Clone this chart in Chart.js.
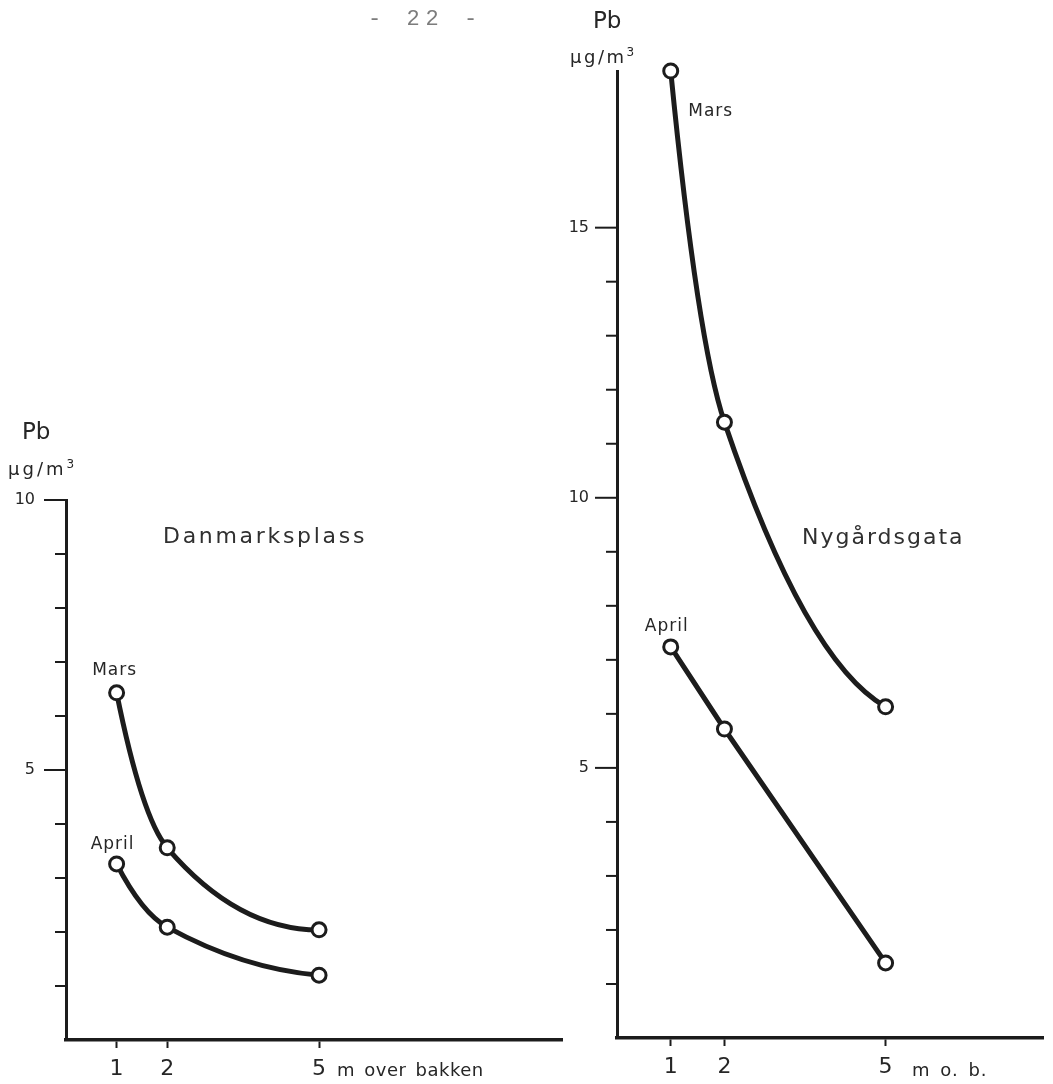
<!DOCTYPE html>
<html>
<head>
<meta charset="utf-8">
<script src="https://cdn.jsdelivr.net/npm/chart.js@4.4.1/dist/chart.umd.min.js"></script>
<style>
html,body{margin:0;padding:0;background:#fff;}
#wrap{position:relative;width:1053px;height:1084px;overflow:hidden;background:#fff;}
canvas{position:absolute;left:0;top:0;}
.t{position:absolute;font-family:"DejaVu Sans",sans-serif;color:#262626;white-space:nowrap;line-height:1;}
</style>
</head>
<body>
<div id="wrap">
<canvas id="c1" width="1053" height="1084"></canvas>
<canvas id="c2" width="1053" height="1084"></canvas>
<div class="t" style="left:368px;top:9px;font-family:'Liberation Mono',monospace;font-size:22px;letter-spacing:6px;color:#7c7c7c;">- 22 -</div>
<div class="t" style="left:22px;top:420px;font-size:23px;">Pb</div>
<div class="t" style="left:8px;top:458px;font-size:18px;letter-spacing:3px;">µg/m<sup style="font-size:12px;vertical-align:7px;">3</sup></div>
<div class="t" style="left:593px;top:9px;font-size:23px;">Pb</div>
<div class="t" style="left:570px;top:46px;font-size:18px;letter-spacing:2.5px;">µg/m<sup style="font-size:12px;vertical-align:7px;">3</sup></div>
<div class="t" style="left:163px;top:525px;font-size:22px;letter-spacing:2.7px;color:#303030;">Danmarksplass</div>
<div class="t" style="left:802px;top:526px;font-size:22px;letter-spacing:2px;color:#303030;">Nygårdsgata</div>
<div class="t" style="left:337px;top:1061px;font-size:18px;letter-spacing:0.5px;word-spacing:3px;">m over bakken</div>
<div class="t" style="left:912px;top:1061px;font-size:18px;letter-spacing:1px;word-spacing:3px;">m o. b.</div>
</div>
<script>
// ---- data ----
const heights = [1, 2, 5];
const danMars = [6.43, 3.56, 2.04];
const danApril = [3.26, 2.09, 1.2];
const nygMars = [17.9, 11.4, 6.13];
const nygApril = [7.24, 5.72, 1.39];
const xTickValues = [1, 2, 5];
const danYTicks = [1, 2, 3, 4, 5, 6, 7, 8, 9, 10];
const danYLabeled = [5, 10];
const nygYTicks = [1, 2, 3, 4, 5, 6, 7, 8, 9, 10, 11, 12, 13, 14, 15];
const nygYLabeled = [5, 10, 15];

const INK = '#1c1c1c';
const TXT = '#262626';

function pts(xs, ys) { return xs.map((x, i) => ({ x: x, y: ys[i] })); }

// Smooth convex curve through the library-positioned points:
// interior tangents along neighbour chord, end tangents by parabolic end condition.
const convexSplinePlugin = {
  id: 'convexSpline',
  beforeDatasetDraw(chart, args) {
    const ds = chart.data.datasets[args.index];
    if (!ds.convexSpline) return;
    const meta = args.meta;
    const p = meta.data;
    const n = p.length;
    if (n < 3) return;
    const d = [];
    for (let i = 0; i < n - 1; i++) d.push((p[i + 1].y - p[i].y) / (p[i + 1].x - p[i].x));
    const m = new Array(n);
    for (let i = 1; i < n - 1; i++) m[i] = (p[i + 1].y - p[i - 1].y) / (p[i + 1].x - p[i - 1].x);
    m[0] = 2 * d[0] - m[1];
    if (m[0] * d[0] < 0) m[0] = 0;
    m[n - 1] = 2 * d[n - 2] - m[n - 2];
    if (m[n - 1] * d[n - 2] < 0) m[n - 1] = 0;
    for (let i = 0; i < n; i++) {
      const hPrev = i > 0 ? (p[i].x - p[i - 1].x) / 3 : 0;
      const hNext = i < n - 1 ? (p[i + 1].x - p[i].x) / 3 : 0;
      p[i].cp1x = p[i].x - hPrev; p[i].cp1y = p[i].y - m[i] * hPrev;
      p[i].cp2x = p[i].x + hNext; p[i].cp2y = p[i].y + m[i] * hNext;
    }
    meta.dataset._pointsUpdated = true;
    meta.dataset._path = undefined;
  }
};

const tickPlugin = {
  id: 'pbTicks',
  afterDraw(chart, args, opts) {
    const s = chart.scales.y;
    const ctx = chart.ctx;
    ctx.save();
    ctx.strokeStyle = INK;
    ctx.lineWidth = 2;
    s.ticks.forEach(t => {
      const y = s.getPixelForValue(t.value);
      const len = opts.major.includes(t.value) ? opts.majorLen : opts.minorLen;
      ctx.beginPath();
      ctx.moveTo(s.right - len, y);
      ctx.lineTo(s.right, y);
      ctx.stroke();
    });
    ctx.restore();
  }
};

const pointLabelPlugin = {
  id: 'pointLabels',
  afterDatasetsDraw(chart) {
    const ctx = chart.ctx;
    ctx.save();
    ctx.fillStyle = TXT;
    ctx.font = '17px "DejaVu Sans", sans-serif';
    if ('letterSpacing' in ctx) ctx.letterSpacing = '1px';
    ctx.textAlign = 'center';
    ctx.textBaseline = 'middle';
    chart.data.datasets.forEach((ds, i) => {
      if (!ds.pointLabel) return;
      const el = chart.getDatasetMeta(i).data[ds.pointLabel.index];
      ctx.fillText(ds.label, el.x + ds.pointLabel.dx, el.y + ds.pointLabel.dy);
    });
    ctx.restore();
  }
};

function lineDs(label, ys, curved, lbl) {
  return {
    label: label,
    data: pts(heights, ys),
    borderColor: INK,
    borderWidth: 5,
    pointRadius: 7,
    pointBorderWidth: 3,
    pointBackgroundColor: '#fff',
    pointBorderColor: INK,
    cubicInterpolationMode: 'default',
    tension: curved ? 0.4 : 0,
    capBezierPoints: false,
    convexSpline: curved,
    fill: false,
    clip: false,
    pointLabel: lbl
  };
}

function makeChart(id, cfg) {
  return new Chart(document.getElementById(id), {
    type: 'line',
    data: { datasets: cfg.datasets },
    options: {
      responsive: false,
      animation: false,
      events: [],
      layout: { padding: cfg.padding },
      plugins: {
        legend: { display: false },
        tooltip: { enabled: false },
        pbTicks: { major: cfg.yLabeled, majorLen: 22, minorLen: 11 }
      },
      scales: {
        x: {
          type: 'linear',
          min: 0,
          max: cfg.xMax,
          afterBuildTicks: s => { s.ticks = xTickValues.map(v => ({ value: v })); },
          afterFit: s => { s.height = cfg.xHeight; },
          grid: { display: true, drawOnChartArea: false, drawTicks: true, tickLength: 8, tickColor: INK, tickWidth: 2 },
          border: { display: true, color: INK, width: 3.5 },
          ticks: { color: TXT, font: { family: 'DejaVu Sans', size: 22 }, padding: 8, maxRotation: 0, autoSkip: false,
                   callback: v => String(v) }
        },
        y: {
          type: 'linear',
          min: 0,
          max: cfg.yMax,
          afterBuildTicks: s => { s.ticks = cfg.yTicks.map(v => ({ value: v })); },
          afterFit: s => { s.width = cfg.yWidth; },
          grid: { display: false, drawTicks: false, tickLength: 0 },
          border: { display: true, color: INK, width: 3 },
          ticks: { color: TXT, font: { family: 'DejaVu Sans', size: 16 }, padding: cfg.yPad, autoSkip: false,
                   callback: v => cfg.yLabeled.includes(v) ? String(v) : '' }
        }
      }
    },
    plugins: [convexSplinePlugin, tickPlugin, pointLabelPlugin]
  });
}

makeChart('c1', {
  datasets: [
    lineDs('Mars', danMars, true, { index: 0, dx: -2, dy: -22 }),
    lineDs('April', danApril, true, { index: 0, dx: -4, dy: -19 })
  ],
  padding: { left: 0, top: 500, right: 491, bottom: 0 },
  xMax: 9.8, xHeight: 44,
  yMax: 10, yTicks: danYTicks, yLabeled: danYLabeled, yWidth: 66, yPad: 31
});

makeChart('c2', {
  datasets: [
    lineDs('Mars', nygMars, true, { index: 0, dx: 40, dy: 41 }),
    lineDs('April', nygApril, false, { index: 0, dx: -4, dy: -20 })
  ],
  padding: { left: 550, top: 71, right: 0, bottom: 0 },
  xMax: 7.93, xHeight: 46,
  yMax: 17.9, yTicks: nygYTicks, yLabeled: nygYLabeled, yWidth: 67, yPad: 28
});
</script>
</body>
</html>
